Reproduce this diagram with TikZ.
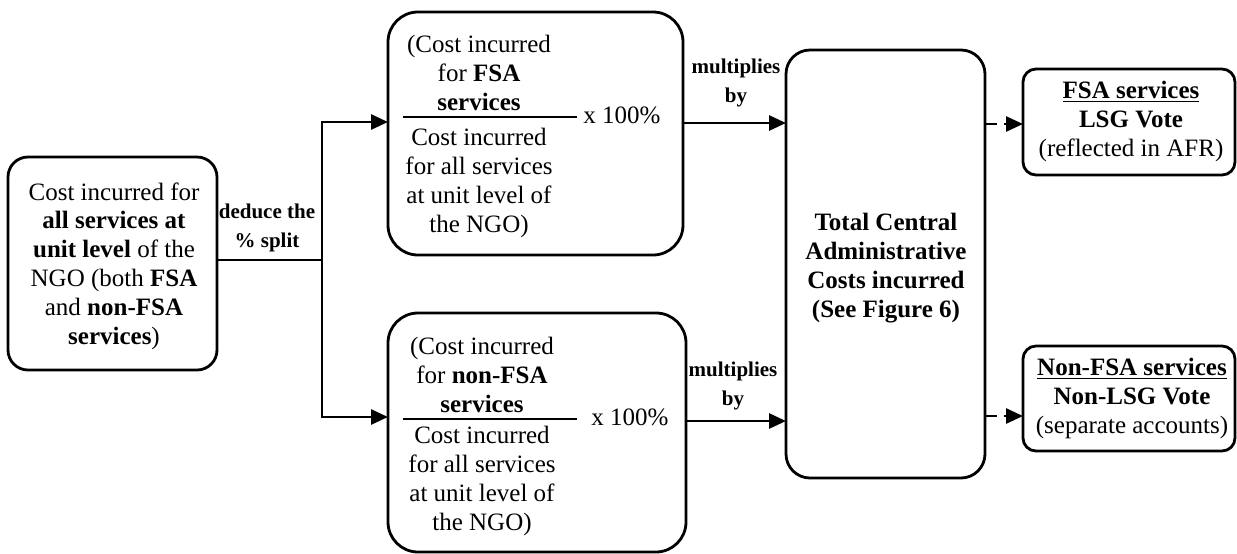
\documentclass[tikz,border=0pt]{standalone}
\usepackage{fontspec}
\setmainfont{Liberation Serif}
\usetikzlibrary{arrows.meta}
\begin{document}
\begin{tikzpicture}[x=0.5pt,y=-0.5pt,
  box/.style={draw, line width=1.4pt, rounded corners=#1, inner sep=0pt},
  box/.default=11pt,
  txt/.style={align=center, inner sep=0pt, anchor=base, font=\fontsize{12.5}{14.4}\selectfont},
  btxt/.style={txt, font=\fontsize{12.5}{14.4}\selectfont\bfseries},
  lbl/.style={align=center, inner sep=0pt, anchor=base, font=\fontsize{10.5}{14.2}\selectfont\bfseries},
  wire/.style={line width=1.4pt},
  conn/.style={line width=1.4pt, -{Triangle[length=8.5pt,width=7.5pt]}},
  dconn/.style={conn, dash pattern=on 5.5pt off 3.5pt},
  frac/.style={line width=0.6pt}
]
\useasboundingbox (0,0) rectangle (1237,553);

% boxes
\node[box=10pt, minimum width=104.5pt, minimum height=106.5pt] (L) at (112.5,263.5) {};
\node[box=15pt, minimum width=147.5pt, minimum height=121.5pt] (T) at (535.5,133.5) {};
\node[box=15pt, minimum width=149pt, minimum height=119.5pt] (B) at (537,432.5) {};
\node[box=12pt, minimum width=99.5pt, minimum height=214pt] (C) at (885.5,264) {};
\node[box=6.5pt, minimum width=106pt, minimum height=53pt] (R1) at (1129,122) {};
\node[box=6.5pt, minimum width=106pt, minimum height=52.5pt] (R2) at (1129,398.5) {};

% texts (anchor base = baseline of last line)
\node[txt] (Ltext) at (114,344) {Cost incurred for\\ \textbf{all services at}\\ \textbf{unit level} of the\\ NGO (both \textbf{FSA}\\ and \textbf{non-FSA}\\ \textbf{services})};

\node[txt] (Tnum) at (479,110) {(Cost incurred\\ for \textbf{FSA}\\ \textbf{services}};
\node[txt] (Tden) at (479,232) {Cost incurred\\ for all services\\ at unit level of\\ the NGO)};
\node[txt] (Tpct) at (622,123) {x 100\%};
\coordinate (Tfa) at (403,117);
\coordinate (Tfb) at (577,117);
\draw[frac] (Tfa) -- (Tfb);

\node[txt] (Bnum) at (482,412) {(Cost incurred\\ for \textbf{non-FSA}\\ \textbf{services}};
\node[txt] (Bden) at (482,530) {Cost incurred\\ for all services\\ at unit level of\\ the NGO)};
\node[txt] (Bpct) at (630,425) {x 100\%};
\coordinate (Bfa) at (403,419);
\coordinate (Bfb) at (577,419);
\draw[frac] (Bfa) -- (Bfb);

\node[btxt] (Ctext) at (886,317) {Total Central\\ Administrative\\ Costs incurred\\ (See Figure 6)};

\node[txt] (R1text) at (1131,156) {\textbf{\underline{FSA services}}\\ \textbf{LSG Vote}\\ (reflected in AFR)};
\node[txt] (R2text) at (1132,433) {\textbf{\underline{Non-FSA services}}\\ \textbf{Non-LSG Vote}\\ (separate accounts)};

% labels
\node[lbl] (deduce) at (267,247) {deduce the\\ \% split};
\node[lbl] (mult1) at (736,102) {multiplies\\ by};
\node[lbl] (mult2) at (733,405) {multiplies\\ by};

% connectors
\coordinate (J) at (322,260);
\coordinate (Tin) at (388,122);
\coordinate (Bin) at (388,417);
\coordinate (Tout) at (683,123);
\coordinate (Bout) at (686,421);
\coordinate (C1) at (786,123);
\coordinate (C2) at (786,421);
\coordinate (R1in) at (1023,124);
\coordinate (R2in) at (1023,416);

\draw[wire] (L.east |- J) -- (J);
\draw[conn] (J) |- (Tin);
\draw[conn] (J) |- (Bin);
\draw[conn] (Tout) -- (C1);
\draw[conn] (Bout) -- (C2);
\draw[dconn] (C.east |- R1in) -- (R1in);
\draw[dconn] (C.east |- R2in) -- (R2in);
\end{tikzpicture}
\end{document}
